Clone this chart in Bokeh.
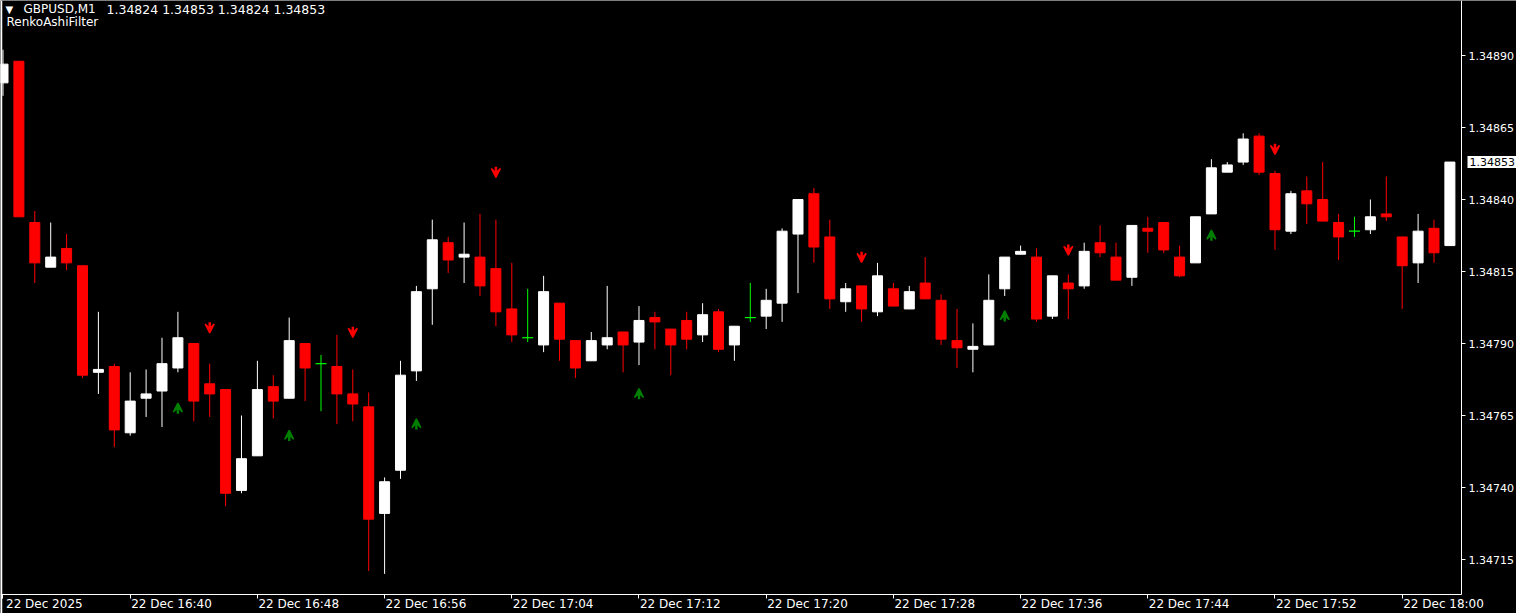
import numpy as np
from bokeh.plotting import figure
from bokeh.models import (ColumnDataSource, Range1d, FixedTicker, PrintfTickFormatter,
                          Label, Span, Arrow, VeeHead, LinearAxis)
from bokeh.embed import file_html
from bokeh.resources import INLINE

SYMBOL = "GBPUSD,M1"
LAST_BAR = "1.34824 1.34853 1.34824 1.34853"
INDICATOR = "RenkoAshiFilter"

OPEN = [1.348805, 1.34888, 1.34832, 1.348165, 1.34823, 1.34817, 1.3478, 1.34782, 1.34759, 1.34771,
        1.347735, 1.347815, 1.3479, 1.34776, 1.34774, 1.34739, 1.34751, 1.34775, 1.34771, 1.3479,
        1.34783, 1.34782, 1.347725, 1.34768, 1.34731, 1.34746, 1.347805, 1.34809, 1.34825, 1.3482,
        1.3482, 1.34816, 1.34802, 1.34792, 1.347895, 1.34804, 1.34791, 1.34784, 1.347895, 1.34794,
        1.347905, 1.34799, 1.34795, 1.34798, 1.34793, 1.34801, 1.347895, 1.34799, 1.347995, 1.34804,
        1.34828, 1.34842, 1.34827, 1.348045, 1.3481, 1.34801, 1.34809, 1.34802, 1.34811, 1.34805,
        1.34791, 1.34788, 1.347895, 1.34809, 1.34821, 1.3482, 1.347995, 1.34811, 1.3481, 1.34825,
        1.3482, 1.34813, 1.3483, 1.34832, 1.3482, 1.34818, 1.34835, 1.348495, 1.34853, 1.34862,
        1.34849, 1.34829, 1.34843, 1.3484, 1.34832, 1.34829, 1.348295, 1.34835, 1.34827, 1.34818,
        1.3483, 1.34824]
HIGH = [1.34892, 1.34888, 1.34836, 1.34832, 1.34828, 1.34817, 1.34801, 1.34783, 1.3478, 1.34781,
        1.34792, 1.34801, 1.3479, 1.34783, 1.34774, 1.34765, 1.34784, 1.34779, 1.34799, 1.3479,
        1.34786, 1.34793, 1.34781, 1.34773, 1.347435, 1.34784, 1.3481, 1.34833, 1.34827, 1.34832,
        1.34835, 1.34833, 1.34818, 1.34809, 1.348135, 1.34804, 1.34791, 1.34794, 1.3481, 1.34794,
        1.34803, 1.34801, 1.34795, 1.34801, 1.34804, 1.34802, 1.34796, 1.34811, 1.34809, 1.3483,
        1.3484, 1.34844, 1.34833, 1.34811, 1.3481, 1.34818, 1.34811, 1.3481, 1.3482, 1.34807,
        1.34802, 1.34797, 1.34814, 1.3482, 1.34824, 1.34823, 1.348135, 1.34814, 1.34825, 1.34831,
        1.34825, 1.34831, 1.34834, 1.34832, 1.34824, 1.34834, 1.34854, 1.34853, 1.34863, 1.34863,
        1.3485, 1.34843, 1.34848, 1.34853, 1.34835, 1.34834, 1.3484, 1.34848, 1.34827, 1.34835,
        1.34833, 1.34853]
LOW = [1.34876, 1.34834, 1.34811, 1.348165, 1.348155, 1.34778, 1.347725, 1.34754, 1.34758, 1.347645,
       1.34761, 1.3478, 1.34763, 1.347645, 1.347335, 1.34738, 1.34751, 1.34764, 1.34771, 1.3477,
       1.347665, 1.34762, 1.34763, 1.34711, 1.3471, 1.34743, 1.34777, 1.347965, 1.348145, 1.34811,
       1.348065, 1.34796, 1.347905, 1.347905, 1.34787, 1.34784, 1.34778, 1.34784, 1.34788, 1.3478,
       1.347825, 1.34788, 1.34779, 1.34788, 1.347905, 1.34787, 1.34784, 1.347975, 1.34795, 1.347975,
       1.348075, 1.34818, 1.34802, 1.34801, 1.347975, 1.347995, 1.34803, 1.34802, 1.348055, 1.347895,
       1.347815, 1.3478, 1.347895, 1.348065, 1.34821, 1.347975, 1.347985, 1.347985, 1.34809, 1.3482,
       1.34812, 1.3481, 1.348215, 1.348215, 1.34813, 1.34818, 1.34835, 1.348495, 1.34852, 1.348485,
       1.348225, 1.34828, 1.348315, 1.348325, 1.34819, 1.34827, 1.34828, 1.348325, 1.34802, 1.34811,
       1.34818, 1.34824]
CLOSE = [1.34887, 1.34834, 1.34818, 1.3482, 1.34818, 1.34779, 1.34781, 1.3476, 1.3477, 1.347725,
         1.34783, 1.34792, 1.3477, 1.347725, 1.34738, 1.3475, 1.34774, 1.3477, 1.34791, 1.347815,
         1.34783, 1.347725, 1.34769, 1.34729, 1.34742, 1.34779, 1.34808, 1.34826, 1.34819, 1.34821,
         1.3481, 1.34801, 1.34793, 1.34792, 1.34808, 1.347915, 1.347815, 1.34791, 1.34792, 1.347895,
         1.34798, 1.347975, 1.347895, 1.347915, 1.348, 1.34788, 1.34796, 1.34799, 1.34805, 1.34829,
         1.3484, 1.348235, 1.348055, 1.34809, 1.34802, 1.348135, 1.34803, 1.34808, 1.348055, 1.347915,
         1.347885, 1.34789, 1.34805, 1.3482, 1.34822, 1.347985, 1.348135, 1.34809, 1.34822, 1.348215,
         1.34812, 1.34831, 1.34829, 1.348225, 1.348135, 1.34834, 1.34851, 1.34852, 1.34861, 1.348495,
         1.348295, 1.34842, 1.348385, 1.348325, 1.34827, 1.34829, 1.34834, 1.34834, 1.34817, 1.34829,
         1.348215, 1.34853]

UP_BAR = [11, 18, 26, 40, 63, 76]
UP_PRICE = [1.347675, 1.34758, 1.34762, 1.347725, 1.347995, 1.348275]
DOWN_BAR = [13, 22, 31, 54, 67, 80]
DOWN_PRICE = [1.347955, 1.34794, 1.348495, 1.3482, 1.348225, 1.348575]

PRICE_TICKS = [1.34715, 1.34740, 1.34765, 1.34790, 1.34815, 1.34840, 1.34865, 1.34890]
TIME_TICK_BARS = [0, 8, 16, 24, 32, 40, 48, 56, 64, 72, 80, 88]
TIME_TICK_LABELS = ["22 Dec 2025", "22 Dec 16:40", "22 Dec 16:48", "22 Dec 16:56",
                    "22 Dec 17:04", "22 Dec 17:12", "22 Dec 17:20", "22 Dec 17:28",
                    "22 Dec 17:36", "22 Dec 17:44", "22 Dec 17:52", "22 Dec 18:00"]

# ---- style / layout ----
BG = "#000000"
BULL = "#FFFFFF"
BEAR = "#FF0000"
DOJI = "#00FF00"
UP_COL = "#008000"
DN_COL = "#FF0000"
FONT = "DejaVu Sans"
BODY_W = 0.63
X_START, X_END = -0.157, 95.189          # chart window in bar units
Y_START, Y_END = 1.3469625, 1.3490910    # chart window in price
LEFT_EDGE = -0.094                       # window border line
PRICE_AXIS_AT = 91.73                    # price scale position (bar units)
TIME_AXIS_AT = 1.3470285                 # time scale position (price)
LABEL_SHIFT = 2.6                        # time labels start at their tick
ARROW_HALF = 0.0000185

o = np.array(OPEN); h = np.array(HIGH); l = np.array(LOW); c = np.array(CLOSE)
idx = np.arange(len(o))
doji = o == c
colors = np.where(doji, DOJI, np.where(c > o, BULL, BEAR))

p = figure(width=1516, height=613, output_backend="svg", toolbar_location=None, tools="",
           x_range=Range1d(X_START, X_END), y_range=Range1d(Y_START, Y_END),
           y_axis_location="right", background_fill_color=BG, border_fill_color=BG,
           min_border_left=0, min_border_top=0, min_border_right=0, min_border_bottom=0)
p.outline_line_color = None
p.grid.visible = False

# wicks
p.segment(x0=idx, y0=l, x1=idx, y1=h, line_color=list(colors), line_width=1)
# bodies
nd = ~doji
p.vbar(x=idx[nd], top=np.maximum(o, c)[nd], bottom=np.minimum(o, c)[nd], width=BODY_W,
       fill_color=list(colors[nd]), line_color=list(colors[nd]), line_width=1)
# doji crosses
p.rect(x=idx[doji], y=o[doji], width=BODY_W + 0.06, height=1.2, height_units="screen",
       fill_color=DOJI, line_color=None)

# signal arrows
up_src = ColumnDataSource(dict(x=UP_BAR, y0=np.array(UP_PRICE) - ARROW_HALF,
                               y1=np.array(UP_PRICE) + ARROW_HALF))
dn_src = ColumnDataSource(dict(x=DOWN_BAR, y0=np.array(DOWN_PRICE) + ARROW_HALF,
                               y1=np.array(DOWN_PRICE) - ARROW_HALF))
p.add_layout(Arrow(end=VeeHead(size=9, fill_color=UP_COL, line_color=UP_COL, line_width=1.5),
                   source=up_src, x_start="x", y_start="y0", x_end="x", y_end="y1",
                   line_color=UP_COL, line_width=2.5))
p.add_layout(Arrow(end=VeeHead(size=9, fill_color=DN_COL, line_color=DN_COL, line_width=1.5),
                   source=dn_src, x_start="x", y_start="y0", x_end="x", y_end="y1",
                   line_color=DN_COL, line_width=2.5))

# time scale: tick marks on the main axis, labels (starting at each tick) on a twin axis
xa = p.xaxis[0]
xa.fixed_location = TIME_AXIS_AT
xa.bounds = (X_START, PRICE_AXIS_AT)
xa.ticker = FixedTicker(ticks=TIME_TICK_BARS)
xa.major_label_text_font_size = "0px"
xa.major_label_overrides = {b: "" for b in TIME_TICK_BARS}
xa.minor_tick_line_color = None
xa.major_tick_in = 0
xa.major_tick_out = 4
xa.major_tick_line_color = "white"
xa.axis_line_color = "white"

label_ticks = [round(b + LABEL_SHIFT, 3) for b in TIME_TICK_BARS]
xl = LinearAxis(fixed_location=TIME_AXIS_AT, ticker=FixedTicker(ticks=label_ticks),
                major_label_overrides={t: s for t, s in zip(label_ticks, TIME_TICK_LABELS)},
                axis_line_color=None, major_tick_line_color=None, minor_tick_line_color=None,
                major_tick_in=0, major_tick_out=3, major_label_standoff=0,
                major_label_text_color="white", major_label_text_font=FONT,
                major_label_text_font_size="12px")
p.add_layout(xl, "below")

# price scale
ya = p.yaxis[0]
ya.fixed_location = PRICE_AXIS_AT
ya.bounds = (TIME_AXIS_AT, Y_END)
ya.ticker = FixedTicker(ticks=PRICE_TICKS)
ya.formatter = PrintfTickFormatter(format="%.5f")
ya.minor_tick_line_color = None
ya.major_tick_in = 0
ya.major_tick_out = 4
ya.major_tick_line_color = "white"
ya.axis_line_color = "white"
ya.major_label_text_color = "white"
ya.major_label_text_font = FONT
ya.major_label_text_font_size = "11px"
ya.major_label_standoff = 3

p.add_layout(Span(location=LEFT_EDGE, dimension="height", line_color="white", line_width=1.5))

# current price tag on the price scale
p.add_layout(Label(x=PRICE_AXIS_AT, y=CLOSE[-1], x_offset=6, text=f"{CLOSE[-1]:.5f}",
                   text_color="black", text_font=FONT, text_font_size="11px",
                   text_baseline="middle", background_fill_color="white", padding=2))

# header texts
p.add_layout(Label(x=X_START, y=Y_END, x_offset=5, y_offset=-3, text="\u25bc",
                   text_color="white", text_font=FONT, text_font_size="10px", text_baseline="top"))
p.add_layout(Label(x=X_START, y=Y_END, x_offset=23, y_offset=-1, text=SYMBOL,
                   text_color="white", text_font=FONT, text_font_size="12px", text_baseline="top"))
p.add_layout(Label(x=X_START, y=Y_END, x_offset=106, y_offset=-1, text=LAST_BAR,
                   text_color="white", text_font=FONT, text_font_size="12.5px", text_baseline="top"))
p.add_layout(Label(x=X_START, y=Y_END, x_offset=6, y_offset=-14, text=INDICATOR,
                   text_color="white", text_font=FONT, text_font_size="12px", text_baseline="top"))

open("out.html", "w").write(file_html(p, INLINE))
